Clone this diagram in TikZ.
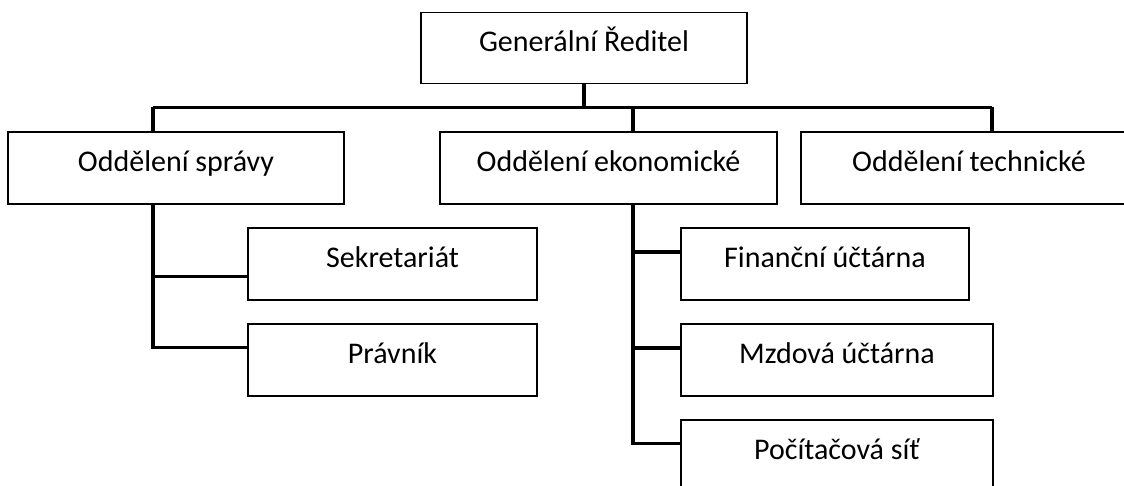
\documentclass[tikz,border=0pt]{standalone}
\usepackage{fontspec}
\setmainfont{Carlito}
\usepackage{tikz}
\usetikzlibrary{positioning, calc}

\begin{document}
\begin{tikzpicture}[
    x=1pt, y=-1pt,
    unit/.style={rectangle, draw, line width=1.5pt, minimum height=72pt, inner sep=0pt, text height=26pt, text depth=19pt, font=\fontsize{30}{36}\selectfont},
    conn/.style={line width=3.2pt}
]
\clip (0,0) rectangle (1124,486);
\fill[white] (0,0) rectangle (1124,486);

% Vedeni
\node[unit, minimum width=326pt, minimum height=71pt] (gr) at (584, 48) {Generální Ředitel};

% Oddeleni
\node[unit, minimum width=336pt] (sprava) at (176, 168) {Oddělení správy};
\node[unit, minimum width=337pt] (ekon) at (608.5, 168) {Oddělení ekonomické};
\node[unit, minimum width=336pt] (tech) at (969, 168) {Oddělení technické};

% Podrizene utvary
\node[unit, minimum width=289pt] (sekr) at (392.5, 264) {Sekretariát};
\node[unit, minimum width=289pt] (pravnik) at (392.5, 360) {Právník};
\node[unit, minimum width=288pt] (fin) at (825, 264) {Finanční účtárna};
\node[unit, minimum width=312pt] (mzd) at (837, 360) {Mzdová účtárna};
\node[unit, minimum width=312pt] (poc) at (837, 456) {Počítačová síť};

% Sbernice
\coordinate (busL) at (153, 107.5);
\coordinate (busE) at (633, 107.5);
\coordinate (busR) at (992, 107.5);
\coordinate (sekrIn) at ([yshift=-12.5pt]sekr.west);
\coordinate (pravIn) at ([yshift=12.5pt]pravnik.west);
\coordinate (finIn) at ([yshift=12pt]fin.west);
\coordinate (mzdIn) at ([yshift=12pt]mzd.west);
\coordinate (pocIn) at ([yshift=12.5pt]poc.west);

\draw[conn] (gr.south) -- (gr.south |- busL);
\draw[conn] (busL) -- (busR);
\draw[conn] (busL) -- (busL |- sprava.north);
\draw[conn] (busE) -- (busE |- ekon.north);
\draw[conn] (busR) -- (busR |- tech.north);

% Sprava
\draw[conn] (busL |- sprava.south) |- (pravIn);
\draw[conn] (sekrIn) -- (busL |- sekrIn);

% Ekonomika
\draw[conn] (busE |- ekon.south) |- (pocIn);
\draw[conn] (finIn) -- (busE |- finIn);
\draw[conn] (mzdIn) -- (busE |- mzdIn);
\end{tikzpicture}
\end{document}
